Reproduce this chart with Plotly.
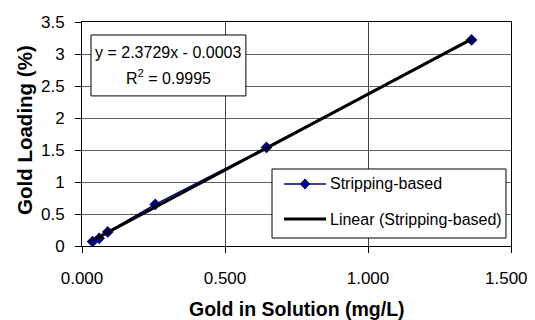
import numpy as np
import plotly.graph_objects as go

# Data
gold_in_solution = [0.037, 0.060, 0.090, 0.256, 0.645, 1.362]   # mg/L
gold_loading = [0.07, 0.12, 0.22, 0.65, 1.54, 3.22]              # %
slope = 2.3729
intercept = -0.0003
r_squared = 0.9995

series_name = "Stripping-based"
trend_name = "Linear (Stripping-based)"
x_title = "Gold in Solution (mg/L)"
y_title = "Gold Loading (%)"

x_ticks = [0.0, 0.5, 1.0, 1.5]
x_tick_labels = ["0.000", "0.500", "1.000", "1.500"]
y_ticks = [0, 0.5, 1, 1.5, 2, 2.5, 3, 3.5]
y_tick_labels = ["0", "0.5", "1", "1.5", "2", "2.5", "3", "3.5"]

FONT = "Liberation Sans, Arial, sans-serif"
NAVY = "#000080"

fit_x = np.array([min(gold_in_solution), max(gold_in_solution)])
fit_y = slope * fit_x + intercept

# keep the last x label inside the visible page edge
x_tick_text = x_tick_labels[:-1] + [x_tick_labels[-1] + "&nbsp;&nbsp;"]

fig = go.Figure()
fig.add_trace(go.Scatter(
    x=gold_in_solution, y=gold_loading, mode="lines+markers",
    name=series_name, showlegend=False,
    line=dict(color=NAVY, width=1.5),
    marker=dict(symbol="diamond", size=9, color=NAVY),
))
fig.add_trace(go.Scatter(
    x=fit_x, y=fit_y, mode="lines",
    name=trend_name, showlegend=False,
    line=dict(color="black", width=3),
))

# Equation box
fig.add_shape(type="rect", xref="paper", yref="paper",
              x0=0.021, x1=0.382, y0=0.670, y1=0.942,
              line=dict(color="black", width=1), fillcolor="white", layer="above")
fig.add_annotation(x=0.2016, y=0.863, xref="paper", yref="paper",
                   text=f"y = {slope}x - {abs(intercept):.4f}", showarrow=False,
                   xanchor="center", yanchor="middle",
                   font=dict(family=FONT, size=16, color="black"))
fig.add_annotation(x=0.2016, y=0.756, xref="paper", yref="paper",
                   text=f"R<sup>2</sup> = {r_squared}", showarrow=False,
                   xanchor="center", yanchor="middle",
                   font=dict(family=FONT, size=16, color="black"))

# Legend box (drawn to match the Excel-style legend)
fig.add_shape(type="rect", xref="paper", yref="paper",
              x0=0.4429, x1=0.9883, y0=0.0357, y1=0.3438,
              line=dict(color="black", width=1), fillcolor="white", layer="above")
fig.add_shape(type="line", xref="paper", yref="paper",
              x0=0.4709, x1=0.5688, y0=0.2768, y1=0.2768,
              line=dict(color=NAVY, width=1.5), layer="above")
fig.add_shape(type="path", xref="paper", yref="paper",
              xsizemode="pixel", ysizemode="pixel", xanchor=0.5198, yanchor=0.2768,
              path="M 0,5 L 4.5,0 L 0,-5 L -4.5,0 Z",
              line=dict(color=NAVY, width=1), fillcolor=NAVY, layer="above")
fig.add_shape(type="line", xref="paper", yref="paper",
              x0=0.4709, x1=0.5688, y0=0.1205, y1=0.1205,
              line=dict(color="black", width=3), layer="above")
fig.add_annotation(x=0.5734, y=0.2768, xref="paper", yref="paper",
                   text=series_name, showarrow=False, xanchor="left", yanchor="middle",
                   font=dict(family=FONT, size=16, color="black"))
fig.add_annotation(x=0.5734, y=0.1205, xref="paper", yref="paper",
                   text=trend_name, showarrow=False, xanchor="left", yanchor="middle",
                   font=dict(family=FONT, size=16, color="black"))

# Axis titles
fig.add_annotation(x=0.5, y=-0.280, xref="paper", yref="paper",
                   text=f"<b>{x_title}</b>", showarrow=False,
                   xanchor="center", yanchor="middle",
                   font=dict(family=FONT, size=19.5, color="black"))
fig.add_annotation(x=-0.1329, y=0.518, xref="paper", yref="paper",
                   text=f"<b>{y_title}</b>", showarrow=False, textangle=-90,
                   xanchor="center", yanchor="middle",
                   font=dict(family=FONT, size=20.5, color="black"))

fig.update_layout(
    width=527, height=312,
    margin=dict(l=74, r=24, t=14, b=74),
    paper_bgcolor="white", plot_bgcolor="white",
    font=dict(family=FONT, size=16, color="black"),
    showlegend=False,
    xaxis=dict(
        range=[0, 1.5], tickvals=x_ticks, ticktext=x_tick_text,
        showgrid=True, gridcolor="#404040", gridwidth=1,
        showline=True, linecolor="black", linewidth=1, mirror=True,
        ticks="outside", ticklen=6, tickcolor="black",
        tickfont=dict(family=FONT, size=17), ticklabelstandoff=11,
        ticklabeloverflow="allow",
        zeroline=False, automargin=False,
    ),
    yaxis=dict(
        range=[0, 3.5], tickvals=y_ticks, ticktext=y_tick_labels,
        showgrid=True, gridcolor="#606060", gridwidth=1,
        showline=True, linecolor="black", linewidth=1, mirror=True,
        ticks="outside", ticklen=6, tickcolor="black",
        tickfont=dict(family=FONT, size=17), ticklabelstandoff=7,
        zeroline=False, automargin=False,
    ),
)

fig.write_html("out.html")
